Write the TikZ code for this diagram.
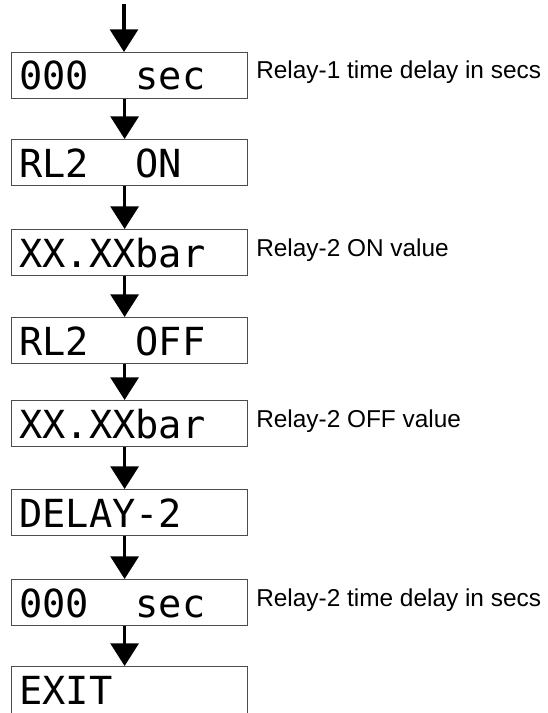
\documentclass[tikz,border=0pt]{standalone}
\usepackage{fontspec}
\setmainfont{Liberation Sans}
\newfontfamily\lcdfont{DejaVu Sans Mono}
\usetikzlibrary{arrows.meta,calc}
\begin{document}
\begin{tikzpicture}[x=0.75pt,y=-0.75pt,
  lcdbox/.style={draw=black!70, line width=0.9pt, rectangle, anchor=north west,
    minimum width=177pt, minimum height=34.5pt, inner sep=0pt},
  lcdtext/.style={anchor=base west, font=\lcdfont\fontsize{29}{29}\selectfont, inner sep=0pt},
  note/.style={anchor=base west, font=\fontsize{18.3}{18.3}\selectfont, inner sep=0pt},
  flow/.style={line width=2.3pt, -{Triangle[width=21pt,length=17pt]}}
]
\useasboundingbox (0,0) rectangle (548,713);
\clip (0,0) rectangle (548,713);
% boxes
\node[lcdbox] (b1) at (11,52) {};
\node[lcdbox] (b2) at (11,139) {};
\node[lcdbox] (b3) at (11,229) {};
\node[lcdbox] (b4) at (11,317) {};
\node[lcdbox] (b5) at (11,400) {};
\node[lcdbox] (b6) at (11,489) {};
\node[lcdbox] (b7) at (11,579) {};
\node[lcdbox, minimum height=45pt] (b8) at (11,666) {};
% display texts
\node[lcdtext] (t1) at (19,90) {000\ \ sec};
\node[lcdtext] (t2) at (19,177) {RL2\ \ ON};
\node[lcdtext] (t3) at (19,267) {XX.XXbar};
\node[lcdtext] (t4) at (19,355) {RL2\ \ OFF};
\node[lcdtext] (t5) at (19,438) {XX.XXbar};
\node[lcdtext] (t6) at (19,527) {DELAY-2};
\node[lcdtext] (t7) at (19,617) {000\ \ sec};
\node[lcdtext] (t8) at (19,704) {EXIT};
% notes
\node[note] (n1) at (256,79) {Relay-1 time delay in secs};
\node[note] (n3) at (256,256) {Relay-2 ON value};
\node[note] (n5) at (256,427) {Relay-2 OFF value};
\node[note] (n7) at (256,606) {Relay-2 time delay in secs};
% arrows
\coordinate (start) at (124,4);
\draw[flow] (start) -- (start |- b1.north);
\foreach \a/\b in {b1/b2,b2/b3,b3/b4,b4/b5,b5/b6,b6/b7,b7/b8}{
  \draw[flow] ($(\a.south)+(-5,0)$) -- ($(\b.north)+(-5,0)$);
}
\end{tikzpicture}
\end{document}
